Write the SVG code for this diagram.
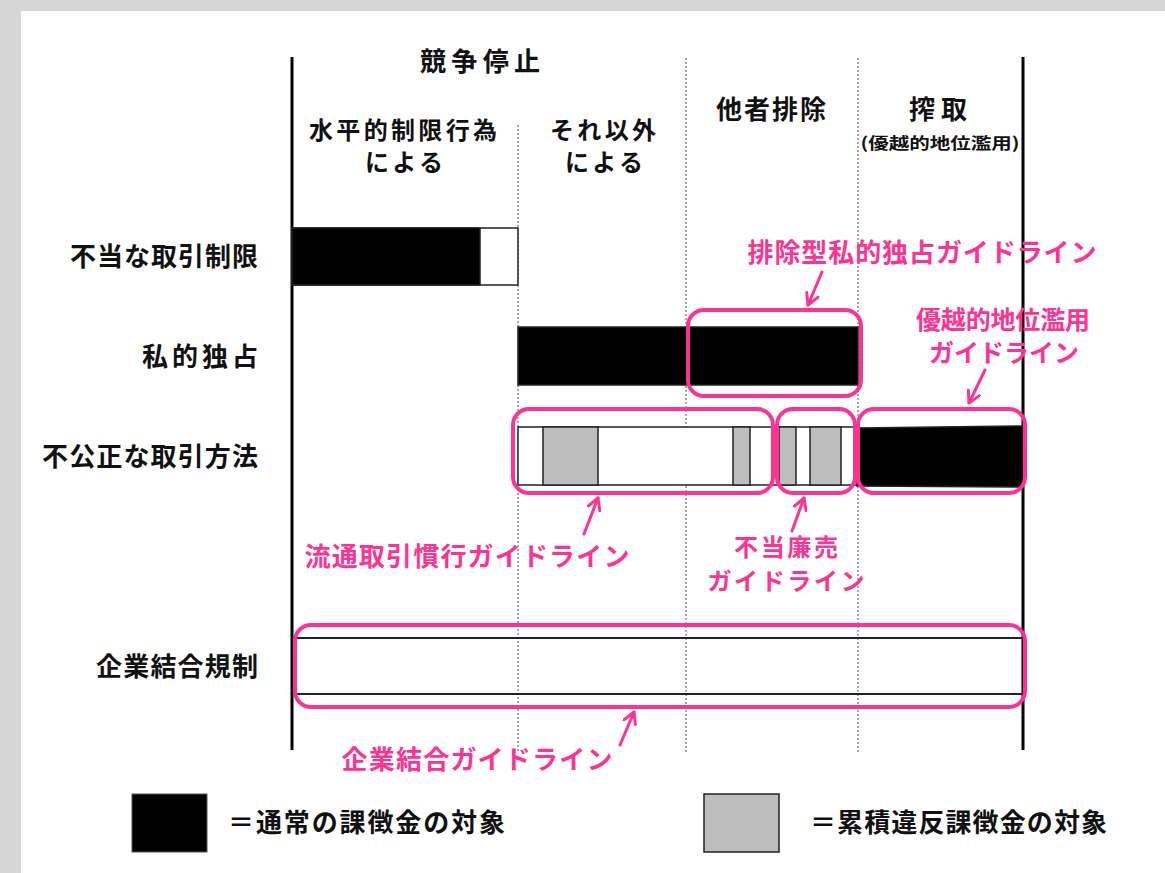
<svg xmlns="http://www.w3.org/2000/svg" width="1165" height="873" viewBox="0 0 1165 873">
<defs>
<style>
.t{font-family:"Noto Sans CJK JP","Noto Sans CJK SC",sans-serif;font-weight:bold;fill:#111;}
.p{font-family:"Noto Sans CJK JP","Noto Sans CJK SC",sans-serif;font-weight:bold;fill:#fc3393;}
.solid{stroke:#000;stroke-width:3;}
.dot{stroke:#555;stroke-width:1;stroke-dasharray:2 2;}
.bar{stroke:#222;stroke-width:1.5;}
.box{fill:none;stroke:#fc3393;stroke-width:4;}
.arr{fill:none;stroke:#fc3393;stroke-width:3;stroke-linecap:round;}
</style>
<marker id="ah" viewBox="0 0 12 12" refX="10" refY="6" markerWidth="5" markerHeight="5" markerUnits="strokeWidth" orient="auto">
<path d="M1,1 L10,6 L1,11" fill="none" stroke="#fc3393" stroke-width="2.4" stroke-linecap="round" stroke-linejoin="round"/>
</marker>
</defs>
<rect x="0" y="0" width="1165" height="873" fill="#d6d6d6"/>
<rect x="21" y="11" width="1144" height="862" fill="#fff"/>

<g id="axes">
<line class="solid" x1="292" y1="57" x2="292" y2="750"/>
<line class="solid" x1="1023" y1="57" x2="1023" y2="750"/>
<line class="dot" x1="518" y1="125" x2="518" y2="753"/>
<line class="dot" x1="686" y1="58" x2="686" y2="753"/>
<line class="dot" x1="858" y1="58" x2="858" y2="753"/>
</g>

<g id="headers">
<text class="t" x="480" y="71" font-size="26" text-anchor="middle" textLength="120">競争停止</text>
<text class="t" x="403" y="139" font-size="24" text-anchor="middle" textLength="188">水平的制限行為</text>
<text class="t" x="404" y="171" font-size="24" text-anchor="middle" textLength="78">による</text>
<text class="t" x="603" y="139" font-size="24" text-anchor="middle" textLength="106">それ以外</text>
<text class="t" x="604" y="171" font-size="24" text-anchor="middle" textLength="78">による</text>
<text class="t" x="771" y="119" font-size="26" text-anchor="middle" textLength="110">他者排除</text>
<text class="t" x="938" y="119" font-size="26" text-anchor="middle" textLength="58">搾取</text>
<text class="t" x="940" y="149" font-size="16" text-anchor="middle" textLength="159" lengthAdjust="spacingAndGlyphs">(優越的地位濫用)</text>
</g>

<g id="row-futou">
<text class="t" x="258" y="266" font-size="26" text-anchor="end" textLength="188">不当な取引制限</text>
<rect class="bar" x="292" y="228" width="226" height="57" fill="#fff"/>
<rect class="bar" x="292" y="228" width="188" height="57" fill="#000"/>
</g>

<g id="row-shiteki">
<text class="t" x="258" y="366" font-size="26" text-anchor="end" textLength="116">私的独占</text>
<rect class="bar" x="518" y="327" width="340" height="58" fill="#000"/>
</g>

<g id="row-fukousei">
<text class="t" x="258" y="466" font-size="26" text-anchor="end" textLength="216">不公正な取引方法</text>
<rect class="bar" x="518" y="427" width="340" height="58" fill="#fff"/>
<rect class="bar" x="543" y="427" width="55" height="58" fill="#bdbdbd"/>
<rect class="bar" x="733" y="427" width="17" height="58" fill="#bdbdbd"/>
<rect class="bar" x="779" y="427" width="17" height="58" fill="#bdbdbd"/>
<rect class="bar" x="810" y="427" width="31" height="58" fill="#bdbdbd"/>
<polygon points="857,428 1023,426 1023,487 857,486" fill="#000" stroke="#222" stroke-width="1.5"/>
</g>

<g id="row-kigyou">
<text class="t" x="258" y="676" font-size="26" text-anchor="end" textLength="162">企業結合規制</text>
<line stroke="#222" stroke-width="2" x1="292" y1="638" x2="1023" y2="638"/>
<line stroke="#222" stroke-width="2" x1="292" y1="694" x2="1023" y2="694"/>
</g>

<g id="guide-haijo">
<rect class="box" x="688" y="310" width="173" height="86" rx="16"/>
<text class="p" x="922" y="262" font-size="26" text-anchor="middle" textLength="349">排除型私的独占ガイドライン</text>
</g>
<g id="guide-yuetsu">
<rect class="box" x="858" y="409" width="167" height="84" rx="16"/>
<text class="p" x="1003" y="329" font-size="25" text-anchor="middle" textLength="174">優越的地位濫用</text>
<text class="p" x="1004" y="362" font-size="25" text-anchor="middle" textLength="150">ガイドライン</text>
</g>
<g id="guide-ryutsu">
<rect class="box" x="513" y="409" width="260" height="84" rx="16"/>
<text class="p" x="467" y="566" font-size="26" text-anchor="middle" textLength="325">流通取引慣行ガイドライン</text>
</g>
<g id="guide-futourenbai">
<rect class="box" x="777" y="409" width="78" height="84" rx="16"/>
<text class="p" x="786" y="556" font-size="24" text-anchor="middle" textLength="104">不当廉売</text>
<text class="p" x="786" y="590" font-size="24" text-anchor="middle" textLength="157">ガイドライン</text>
</g>
<g id="guide-kigyou">
<rect class="box" x="295" y="625" width="730" height="82" rx="16"/>
<text class="p" x="477" y="769" font-size="26" text-anchor="middle" textLength="271">企業結合ガイドライン</text>
</g>

<g id="connectors">
<line class="arr" x1="822" y1="272" x2="808" y2="305" marker-end="url(#ah)"/>
<line class="arr" x1="985" y1="370" x2="969" y2="403" marker-end="url(#ah)"/>
<line class="arr" x1="584" y1="534" x2="598" y2="498" marker-end="url(#ah)"/>
<line class="arr" x1="792" y1="531" x2="804" y2="498" marker-end="url(#ah)"/>
<line class="arr" x1="620" y1="745" x2="634" y2="712" marker-end="url(#ah)"/>
</g>

<g id="legend">
<rect x="132" y="794" width="75" height="58" fill="#000" stroke="#555" stroke-width="1"/>
<text class="t" x="228" y="832" font-size="26" textLength="277">＝通常の課徴金の対象</text>
<rect x="704" y="794" width="75" height="58" fill="#bdbdbd" stroke="#222" stroke-width="1.5"/>
<text class="t" x="810" y="832" font-size="26" textLength="297">＝累積違反課徴金の対象</text>
</g>
</svg>
